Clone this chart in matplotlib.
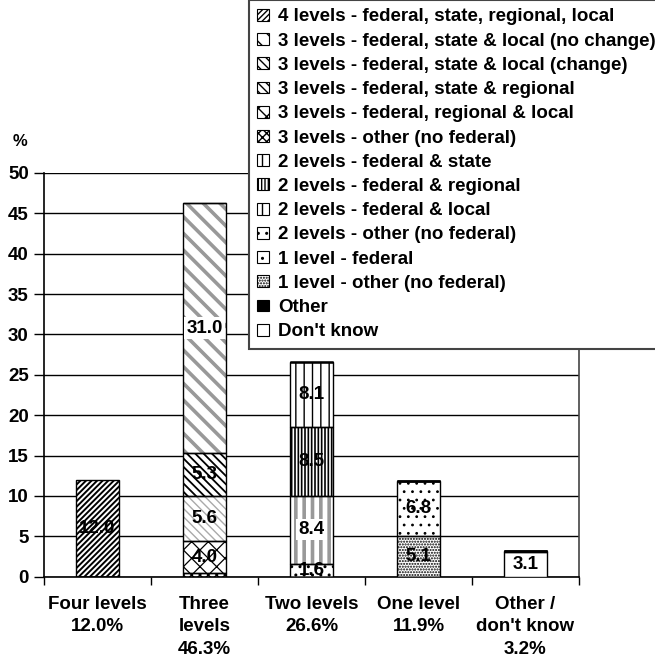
import matplotlib
matplotlib.use("Agg")
import matplotlib.pyplot as plt
import numpy as np

plt.rcParams['font.family'] = ['Liberation Sans', 'DejaVu Sans']
plt.rcParams['font.weight'] = 'bold'

categories = ["Four levels\n12.0%", "Three\nlevels\n46.3%", "Two levels\n26.6%",
              "One level\n11.9%", "Other /\ndon't know\n3.2%"]

series_names = [
    "4 levels - federal, state, regional, local",
    "3 levels - federal, state & local (no change)",
    "3 levels - federal, state & local (change)",
    "3 levels - federal, state & regional",
    "3 levels - federal, regional & local",
    "3 levels - other (no federal)",
    "2 levels - federal & state",
    "2 levels - federal & regional",
    "2 levels - federal & local",
    "2 levels - other (no federal)",
    "1 level - federal",
    "1 level - other (no federal)",
    "Other",
    "Don't know",
]

four_fed_state_reg_local = [12.0, 0, 0, 0, 0]
three_fsl_nochange = [0, 31.0, 0, 0, 0]
three_fsl_change = [0, 5.3, 0, 0, 0]
three_fed_state_reg = [0, 5.6, 0, 0, 0]
three_fed_reg_local = [0, 4.0, 0, 0, 0]
three_other = [0, 0.4, 0, 0, 0]
two_fed_state = [0, 0, 8.1, 0, 0]
two_fed_reg = [0, 0, 8.5, 0, 0]
two_fed_local = [0, 0, 8.4, 0, 0]
two_other = [0, 0, 1.6, 0, 0]
one_fed = [0, 0, 0, 6.8, 0]
one_other = [0, 0, 0, 5.1, 0]
other = [0, 0, 0, 0, 0.1]
dont_know = [0, 0, 0, 0, 3.1]

series_values = [four_fed_state_reg_local, three_fsl_nochange, three_fsl_change,
                 three_fed_state_reg, three_fed_reg_local, three_other,
                 two_fed_state, two_fed_reg, two_fed_local, two_other,
                 one_fed, one_other, other, dont_know]

yticks = [0, 5, 10, 15, 20, 25, 30, 35, 40, 45, 50]

# style per series: (facecolor, hatch, hatchcolor, hatch linewidth)
styles = [
    ("white", "//////", "black", 1.4),
    ("white", "\\\\", "#999999", 2.6),
    ("white", "\\\\\\\\", "black", 1.3),
    ("white", "\\\\\\\\", "#aaaaaa", 1.0),
    ("white", "xx", "black", 0.9),
    ("white", "xxxx", "black", 1.0),
    ("white", "||", "black", 1.0),
    ("white", "|||||", "black", 1.2),
    ("white", "||", "#999999", 2.6),
    ("white", "..", "black", 1.0),
    ("white", "..", "black", 0.8),
    ("white", "......", "black", 1.0),
    ("black", None, "black", 1.0),
    ("white", None, "black", 1.0),
]
label_boxes = {(1, 1), (8, 2)}

FS = 13.5

fig = plt.figure(figsize=(6.55, 6.63), dpi=100)
ax = fig.add_axes([44/655, 1-576.7/663, (579-44)/655, (576.7-173)/663])

x = np.arange(len(categories))
width = 0.41
bottom = np.zeros(len(categories))
handles = [None]*len(series_names)

order = list(range(len(series_names)))[::-1]
for i in order:
    vals = np.array(series_values[i], dtype=float)
    fc, hatch, hc, hlw = styles[i]
    with plt.rc_context({'hatch.linewidth': hlw, 'hatch.color': hc}):
        bars = ax.bar(x, vals, width, bottom=bottom, color=fc, edgecolor=hc,
                      hatch=hatch, linewidth=0, zorder=3)
        for b in bars:
            try:
                b.set_hatch_linewidth(hlw)
            except Exception:
                pass
    ax.bar(x, vals, width, bottom=bottom, fill=False, edgecolor="black",
           linewidth=1.0, zorder=4)
    for j, v in enumerate(vals):
        if v >= 1:
            kw = {}
            if (i, j) in label_boxes:
                kw['bbox'] = dict(facecolor='white', edgecolor='none', pad=1.5)
            ax.text(x[j], bottom[j] + v/2, f"{v:.1f}", ha='center', va='center',
                    fontsize=FS, fontweight='bold', zorder=5, **kw)
    with plt.rc_context({'hatch.linewidth': min(hlw, 1.0), 'hatch.color': hc}):
        h = plt.Rectangle((0, 0), 1, 1, facecolor=fc, edgecolor='black',
                          hatch=hatch, linewidth=0.8)
    handles[i] = h
    bottom = bottom + vals

ax.set_xlim(-0.5, len(categories) - 0.5)
ax.set_ylim(0, 50)
ax.set_yticks(yticks)
ax.set_yticklabels([str(t) for t in yticks], fontsize=FS, fontweight='bold')
ax.set_xticks(np.arange(len(categories) + 1) - 0.5, minor=False)
ax.set_xticklabels([])
ax.set_xticks(x, minor=True)
ax.set_xticklabels(categories, minor=True, fontsize=FS, fontweight='bold',
                   linespacing=1.4)
ax.tick_params(axis='x', which='minor', length=0, pad=14)
ax.tick_params(axis='x', which='major', length=6, direction='out', width=1)
ax.tick_params(axis='y', length=7, direction='out', width=1, pad=4)
ax.yaxis.grid(True, color='black', linewidth=1.0, zorder=0)
ax.set_axisbelow(True)
for s in ['left', 'bottom', 'right']:
    ax.spines[s].set_color('black')
    ax.spines[s].set_linewidth(1.2)
ax.spines['right'].set_color('#444444')
ax.spines['top'].set_visible(False)

fig.text(13/655, 1-141/663, "%", fontsize=12, fontweight='bold', ha='left', va='center')

leg = fig.legend(handles, series_names, loc='upper left',
                 bbox_to_anchor=(249/655, 0.0, (700-249)/655, 1.0),
                 mode='expand', frameon=True, fancybox=False, framealpha=1.0,
                 prop={'size': FS, 'weight': 'bold'}, handlelength=0.6,
                 handleheight=0.6, handletextpad=0.5, labelspacing=0.385,
                 borderpad=0.45, borderaxespad=0)
leg.get_frame().set_edgecolor('#444444')
leg.get_frame().set_facecolor('white')
leg.get_frame().set_linewidth(1.5)
leg.set_zorder(10)

fig.savefig("out.png", dpi=100)
